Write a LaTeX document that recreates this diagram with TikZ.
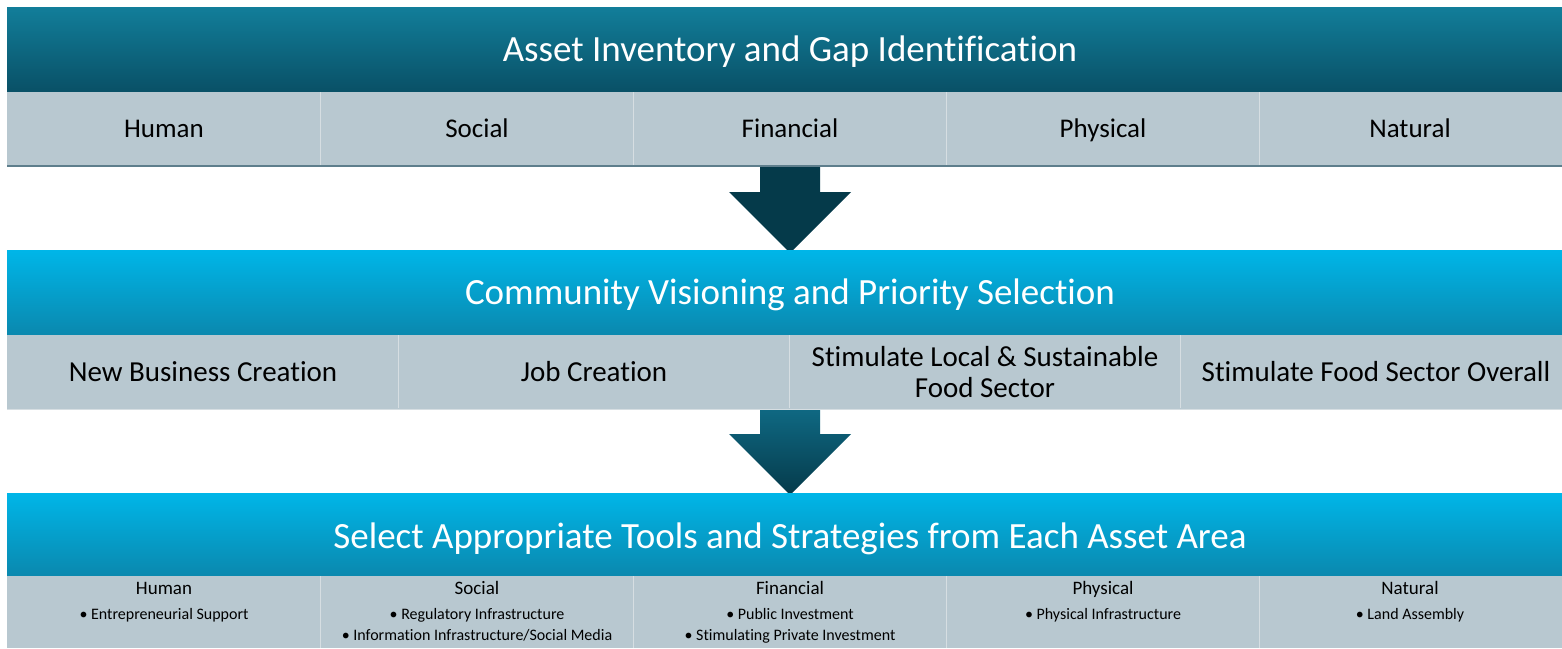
\documentclass[tikz,border=0pt]{standalone}
\usepackage{fontspec}
\setmainfont{Carlito}[Ligatures=NoCommon]
\definecolor{darkteal}{HTML}{053A4A}
\definecolor{bandAtop}{HTML}{127E9A}
\definecolor{bandAbot}{HTML}{095066}
\definecolor{bandBtop}{HTML}{00B6E8}
\definecolor{bandBbot}{HTML}{0A88AE}
\definecolor{rowgrey}{HTML}{B8C8D0}
\definecolor{rowline}{HTML}{D6DEE2}
\definecolor{rowedge}{HTML}{5E7E8C}
\definecolor{arrtop}{HTML}{0F6882}
\begin{document}
\begin{tikzpicture}[x=1pt,y=-1pt,
  title/.style={text=white,font=\fontsize{37}{40}\selectfont,anchor=center,text height=26pt,text depth=8pt},
  cell/.style={text=black,font=\fontsize{27}{30}\selectfont,anchor=center,text height=19pt,text depth=6pt},
  cellB/.style={text=black,font=\fontsize{29}{31}\selectfont,anchor=center,align=center},
  head/.style={text=black,font=\fontsize{19}{21}\selectfont,anchor=center,text height=13.5pt,text depth=4pt},
  bul/.style={text=black,font=\fontsize{16}{21}\selectfont,anchor=north,align=center},
  divider/.style={draw=rowline,line width=1pt}
]
\useasboundingbox (0,0) rectangle (1562,648);
\fill[white] (0,0) rectangle (1562,648);

% Band 1
\shade[top color=bandAtop,bottom color=bandAbot] (7,7) rectangle (1562,92);
\node[title] (t1) at (790,52) {Asset Inventory and Gap Identification};
\fill[rowgrey] (7,92) rectangle (1562,166);
\draw[rowedge,line width=1.2pt] (7,166) -- (1562,166);
\foreach \x in {320,633,946,1259} \draw[divider] (\x,92) -- (\x,165);
\node[cell] (h1) at (164,131) {Human};
\node[cell] (s1) at (477,131) {Social};
\node[cell] (f1) at (790,131) {Financial};
\node[cell] (p1) at (1103,131) {Physical};
\node[cell] (n1) at (1410,131) {Natural};

% Arrow 1
\fill[darkteal] (760,167) -- (820,167) -- (820,192) -- (851,192) -- (790,253) -- (729,192) -- (760,192) -- cycle;

% Band 2
\shade[top color=bandBtop,bottom color=bandBbot] (7,250) rectangle (1562,335);
\node[title] (t2) at (790,295) {Community Visioning and Priority Selection};
\fill[rowgrey] (7,335) rectangle (1562,409);
\draw[rowline,line width=1pt] (7,409) -- (1562,409);
\foreach \x in {398,789,1180} \draw[divider] (\x,335) -- (\x,408);
\node[cellB] (b1) at (203,372) {New Business Creation};
\node[cellB] (b2) at (594,372) {Job Creation};
\node[cellB] (b3) at (985,372) {Stimulate Local \& Sustainable\\Food Sector};
\node[cellB] (b4) at (1376,372) {Stimulate Food Sector Overall};

% Arrow 2
\shade[top color=arrtop,bottom color=darkteal] (760,410) -- (820,410) -- (820,434) -- (851,434) -- (790,495) -- (729,434) -- (760,434) -- cycle;

% Band 3
\shade[top color=bandBtop,bottom color=bandBbot] (7,493) rectangle (1562,576);
\node[title] (t3) at (790,539) {Select Appropriate Tools and Strategies from Each Asset Area};
\fill[rowgrey] (7,576) rectangle (1562,648);
\foreach \x in {320,633,946,1259} \draw[divider] (\x,576) -- (\x,648);
\node[head] (h3) at (164,590) {Human};
\node[head] (s3) at (477,590) {Social};
\node[head] (f3) at (790,590) {Financial};
\node[head] (p3) at (1103,590) {Physical};
\node[head] (n3) at (1410,590) {Natural};
\node[bul] (hb) at (164,605) {• Entrepreneurial Support};
\node[bul] (sb) at (477,605) {• Regulatory Infrastructure\\• Information Infrastructure/Social Media};
\node[bul] (fb) at (790,605) {• Public Investment\\• Stimulating Private Investment};
\node[bul] (pb) at (1103,605) {• Physical Infrastructure};
\node[bul] (nb) at (1410,605) {• Land Assembly};
\end{tikzpicture}
\end{document}
